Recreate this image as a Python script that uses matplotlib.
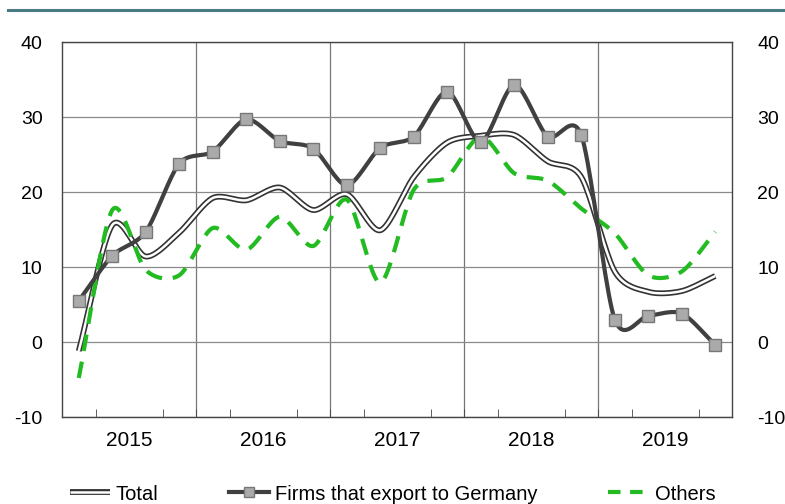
import numpy as np
import matplotlib
matplotlib.use("Agg")
import matplotlib.pyplot as plt
from matplotlib.lines import Line2D
from matplotlib.legend_handler import HandlerTuple

plt.rcParams['font.family'] = ['Liberation Sans', 'DejaVu Sans']
plt.rcParams['axes.unicode_minus'] = False

# quarterly data, 2015Q1 .. 2019Q4
years = ['2015', '2016', '2017', '2018', '2019']
total = [-1.2, 15.6, 11.4, 14.6, 19.2, 18.9, 20.6, 17.6, 19.7, 14.9,
         22.0, 26.6, 27.5, 27.6, 24.1, 22.0, 9.4, 6.7, 6.8, 8.8]
firms = [5.5, 11.5, 14.7, 23.8, 25.4, 29.7, 26.8, 25.8, 20.9, 25.9,
         27.4, 33.4, 26.7, 34.3, 27.4, 27.6, 3.0, 3.5, 3.8, -0.4]
others = [-4.8, 17.6, 9.6, 8.9, 15.2, 12.3, 16.7, 12.8, 19.0, 7.9,
          20.3, 22.0, 27.4, 22.5, 21.5, 17.8, 14.5, 8.9, 9.4, 14.7]


def smooth(x, y, n=20, s=0.42):
    # cardinal spline through the points (like excel's smoothed line)
    x = np.asarray(x, float)
    y = np.asarray(y, float)
    px = np.concatenate([[2*x[0]-x[1]], x, [2*x[-1]-x[-2]]])
    py = np.concatenate([[2*y[0]-y[1]], y, [2*y[-1]-y[-2]]])
    xs, ys = [], []
    t = np.linspace(0, 1, n, endpoint=False)
    h00 = 2*t**3 - 3*t**2 + 1
    h10 = t**3 - 2*t**2 + t
    h01 = -2*t**3 + 3*t**2
    h11 = t**3 - t**2
    for i in range(1, len(px)-2):
        for p, out in ((px, xs), (py, ys)):
            m1 = s*(p[i+1] - p[i-1])
            m2 = s*(p[i+2] - p[i])
            out.extend(h00*p[i] + h10*m1 + h01*p[i+1] + h11*m2)
    xs.append(x[-1])
    ys.append(y[-1])
    return np.array(xs), np.array(ys)


x = np.arange(len(total))

fig = plt.figure(figsize=(7.85, 5.04), dpi=100)
ax = fig.add_axes([0.079, 0.1726, 0.8535, 0.744])

ax.set_xlim(-0.5, 19.5)
ax.set_ylim(-10, 40)
ax.set_yticks(range(-10, 41, 10))
ax.grid(axis='y', color='#8a8a8a', lw=0.9)
for b in [3.5, 7.5, 11.5, 15.5]:
    ax.axvline(b, color='#777777', lw=0.9, zorder=1)

ax.set_xticks([1.5, 5.5, 9.5, 13.5, 17.5])
ax.set_xticklabels(years, fontsize=15)
ax.set_xticks(np.arange(-0.5, 19.6, 1), minor=True)
ax.tick_params(axis='x', which='major', length=0, pad=10)
ax.tick_params(axis='x', which='minor', direction='in', length=6, color='#444444')
ax.tick_params(axis='y', length=0, labelsize=14, pad=14)
for s in ax.spines.values():
    s.set_color('#444444')
    s.set_linewidth(1.0)

ax2 = ax.twinx()
ax2.set_ylim(-10, 40)
ax2.set_yticks(range(-10, 41, 10))
ax2.tick_params(axis='y', length=0, labelsize=14, pad=18)
for s in ax2.spines.values():
    s.set_visible(False)

sx, sy = smooth(x, total)
ax.plot(sx, sy, color='#333333', lw=4.2, solid_capstyle='butt', zorder=3)
ax.plot(sx, sy, color='white', lw=1.8, solid_capstyle='butt', zorder=4)

sx, sy = smooth(x, others)
ax.plot(sx, sy, color='#22bb22', lw=3, dashes=(4, 2.6), zorder=5)

sx, sy = smooth(x, firms)
ax.plot(sx, sy, color='#404040', lw=3, zorder=6)
ax.plot(x, firms, ls='none', marker='s', ms=8.5, mfc='#aaaaaa',
        mec='#777777', mew=1, zorder=7)

# teal rule on top
fig.add_artist(Line2D([0.01, 1.0], [0.981, 0.981], color='#4a7a82', lw=2.2))

h_total = (Line2D([], [], color='#333333', lw=4.2, solid_capstyle='butt'),
           Line2D([], [], color='white', lw=1.8, solid_capstyle='butt'))
h_firms = Line2D([], [], color='#404040', lw=3, marker='s', ms=7,
                 mfc='#aaaaaa', mec='#777777')
h_others = Line2D([], [], color='#22bb22', lw=3, dashes=(3, 2.3))
fig.legend([h_total, h_firms, h_others],
           ['Total', 'Firms that export to Germany', 'Others'],
           handler_map={tuple: HandlerTuple(ndivide=1)},
           loc='lower center', bbox_to_anchor=(0.5, -0.035), ncol=3,
           frameon=False, fontsize=14.5, columnspacing=3.5,
           handlelength=2.0, handletextpad=0.3)

fig.savefig('out.png', dpi=100)
